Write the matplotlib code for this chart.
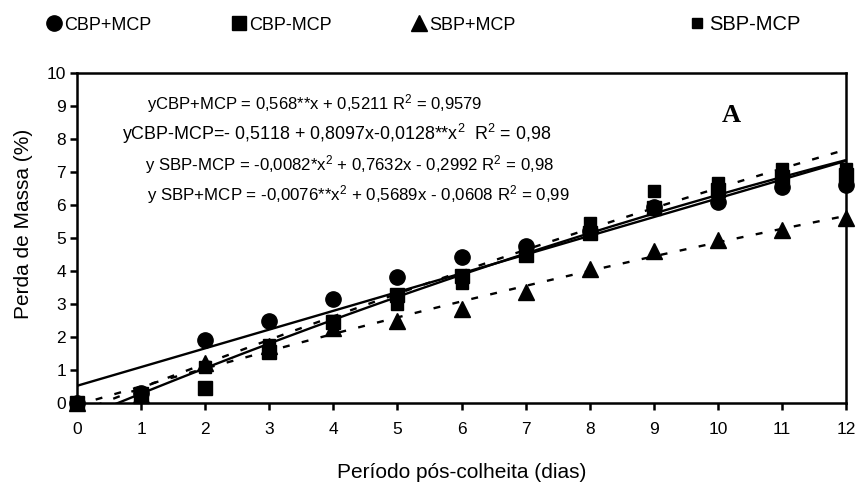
import numpy as np
import matplotlib
matplotlib.use("Agg")
import matplotlib.pyplot as plt
from matplotlib.lines import Line2D

plt.rcParams['font.family'] = ['Liberation Sans', 'DejaVu Sans']
plt.rcParams['mathtext.fontset'] = 'custom'
plt.rcParams['mathtext.rm'] = 'Liberation Sans'
plt.rcParams['mathtext.it'] = 'Liberation Sans'
plt.rcParams['lines.scale_dashes'] = False

# ---- data ----
days = [0, 1, 2, 3, 4, 5, 6, 7, 8, 9, 10, 11, 12]
cbp_mcp_plus = [0, 0.3, 1.9, 2.5, 3.15, 3.83, 4.43, 4.75, 5.2, 5.95, 6.1, 6.55, 6.62]
cbp_mcp_minus = [0, 0.27, 0.45, 1.55, 2.46, 3.27, 3.85, 4.5, 5.15, 5.9, 6.45, 6.85, 6.9]
sbp_mcp_plus = [0, 0.25, 1.2, 1.72, 2.28, 2.47, 2.85, 3.35, 4.07, 4.6, 4.93, 5.25, 5.62]
sbp_mcp_minus = [0, 0.25, 1.1, 1.75, 2.5, 3.0, 3.65, 4.6, 5.45, 6.42, 6.68, 7.08, 7.1]

# trendline coefficients (c0, c1, c2) from the chart's equations
fit_cbp_plus = [0.5211, 0.568, 0.0]
fit_cbp_minus = [-0.5118, 0.8097, -0.0128]
fit_sbp_minus = [-0.2992, 0.7632, -0.0082]
fit_sbp_plus = [-0.0608, 0.5689, -0.0076]

series_names = ['CBP+MCP', 'CBP-MCP', 'SBP+MCP', 'SBP-MCP']
eq_texts = [
    'yCBP+MCP = 0,568**x + 0,5211 R$^2$ = 0,9579',
    'yCBP-MCP=- 0,5118 + 0,8097x-0,0128**x$^2$  R$^2$ = 0,98',
    'y SBP-MCP = -0,0082*x$^2$ + 0,7632x - 0,2992 R$^2$ = 0,98',
    'y SBP+MCP = -0,0076**x$^2$ + 0,5689x - 0,0608 R$^2$ = 0,99',
]

W, H = 862, 487
fig = plt.figure(figsize=(W / 100, H / 100), dpi=100)
ax = fig.add_axes([77 / W, 1 - 403 / H, (846 - 77) / W, (403 - 73) / H])

xs = np.linspace(0, 12, 300)
def poly(c, x):
    return c[0] + c[1] * x + c[2] * x ** 2

lw = 1.7
dash = (5, 9)
ax.plot(xs, poly(fit_cbp_plus, xs), color='black', lw=lw, solid_capstyle='butt')
ax.plot(xs, poly(fit_cbp_minus, xs), color='black', lw=lw, solid_capstyle='butt')
ax.plot(xs, poly(fit_sbp_minus, xs), color='black', lw=lw, dashes=dash)
ax.plot(xs, poly(fit_sbp_plus, xs), color='black', lw=lw, dashes=dash)

ms = 11
ax.plot(days, cbp_mcp_plus, 'o', color='black', ms=ms, clip_on=False, zorder=5)
ax.plot(days, cbp_mcp_minus, 's', color='black', ms=ms * 0.95, clip_on=False, zorder=5)
ax.plot(days, sbp_mcp_plus, '^', color='black', ms=ms, clip_on=False, zorder=5)
ax.plot(days, sbp_mcp_minus, 's', color='black', ms=ms * 0.8, clip_on=False, zorder=5)

ax.set_xlim(0, 12)
ax.set_ylim(0, 10)
ax.set_xticks(range(0, 13))
ax.set_yticks(range(0, 11))
for s in ax.spines.values():
    s.set_linewidth(1.8)
ax.tick_params(axis='both', direction='out', length=5, width=1.8, labelsize=12.5, colors='black')
ax.tick_params(axis='x', pad=9)
ax.tick_params(axis='y', pad=3)

ax.set_xlabel('Período pós-colheita (dias)', fontsize=15)
ax.set_ylabel('Perda de Massa (%)', fontsize=15)
ax.xaxis.set_label_coords(0.5, -(472 - 403) / (403 - 73), transform=ax.transAxes)
ax.yaxis.set_label_coords(-(77 - 24) / (846 - 77), (403 - 224) / (403 - 73))
ax.xaxis.label.set_va('center')
ax.yaxis.label.set_va('center')

# equations
eq_pos = [(147, 104, 12.0), (122, 134, 12.9), (145, 165, 12.1), (147, 195, 12.2)]
for t, (px, py, fs) in zip(eq_texts, eq_pos):
    fig.text(px / W, 1 - py / H, t, fontsize=fs, ha='left', va='center')

fig.text(722 / W, 1 - 116 / H, 'A', fontsize=19, fontweight='bold',
         family='Liberation Serif', ha='left', va='center')

# legend (one entry per slot)
leg_specs = [('o', 11, 50, 13), ('s', 10.5, 235, 13), ('^', 11, 415, 13), ('s', 7, 692, 14.5)]
for name, (mk, m, px, fs) in zip(series_names, leg_specs):
    h = Line2D([], [], marker=mk, color='black', ls='none', ms=m)
    fig.legend(handles=[h], labels=[name], loc='center left',
               bbox_to_anchor=(px / W - 0.004, 1 - 25 / H), frameon=False,
               fontsize=fs, handlelength=0.8, handletextpad=0.2,
               borderaxespad=0, borderpad=0)

fig.savefig('out.png', dpi=100)
